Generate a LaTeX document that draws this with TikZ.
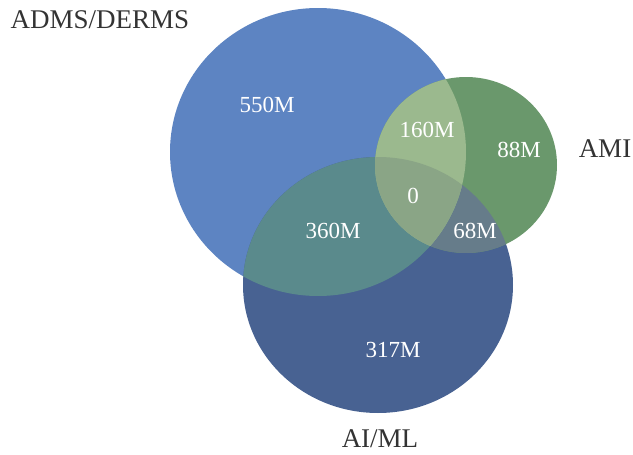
\documentclass[tikz,border=0pt]{standalone}
\usepackage{fontspec}
\setmainfont{Liberation Serif}
\definecolor{admsblue}{RGB}{93,132,194}
\definecolor{amigreen}{RGB}{106,152,108}
\definecolor{aimlblue}{RGB}{72,98,146}
\definecolor{admsami}{RGB}{155,185,142}
\definecolor{admsaiml}{RGB}{90,138,140}
\definecolor{amiaiml}{RGB}{102,124,138}
\definecolor{allthree}{RGB}{138,165,134}

\begin{document}
\begin{tikzpicture}[x=1pt,y=-1pt,
    setname/.style={anchor=base,text=black!80,font=\fontsize{27}{31}\selectfont},
    count/.style={anchor=base,text=white,font=\fontsize{23}{27}\selectfont}]
    \useasboundingbox (0,0) rectangle (633,455);
    \coordinate (adms) at (318,152);
    \coordinate (ami) at (466,165);
    \coordinate (aiml) at (378,285);
    % the three sets
    \fill[admsblue] (adms) ellipse [x radius=148, y radius=144];
    \fill[aimlblue] (aiml) ellipse [x radius=135, y radius=128];
    \fill[amigreen] (ami) ellipse [x radius=91, y radius=88];
    \begin{scope}
        \clip (ami) ellipse [x radius=91, y radius=88];
        \fill[amiaiml] (aiml) ellipse [x radius=135, y radius=128];
    \end{scope}
    \begin{scope}
        \clip (adms) ellipse [x radius=148, y radius=144];
        \fill[admsaiml] (aiml) ellipse [x radius=135, y radius=128];
        \fill[admsami] (ami) ellipse [x radius=91, y radius=88];
        \clip (aiml) ellipse [x radius=135, y radius=128];
        \fill[allthree] (ami) ellipse [x radius=91, y radius=88];
    \end{scope}
    % labels
    \node[setname] (admslabel) at (100,28) {ADMS/DERMS};
    \node[setname] (amilabel) at (605,157) {AMI};
    \node[setname] (aimllabel) at (380,447) {AI/ML};
    \node[count] (admsonly) at (267,112) {550M};
    \node[count] (admsamicount) at (427,137) {160M};
    \node[count] (amionly) at (519,157) {88M};
    \node[count] (allcount) at (413,203) {0};
    \node[count] (admsaimlcount) at (333,238) {360M};
    \node[count] (amiaimlcount) at (475,238) {68M};
    \node[count] (aimlonly) at (393,357) {317M};
\end{tikzpicture}
\end{document}
